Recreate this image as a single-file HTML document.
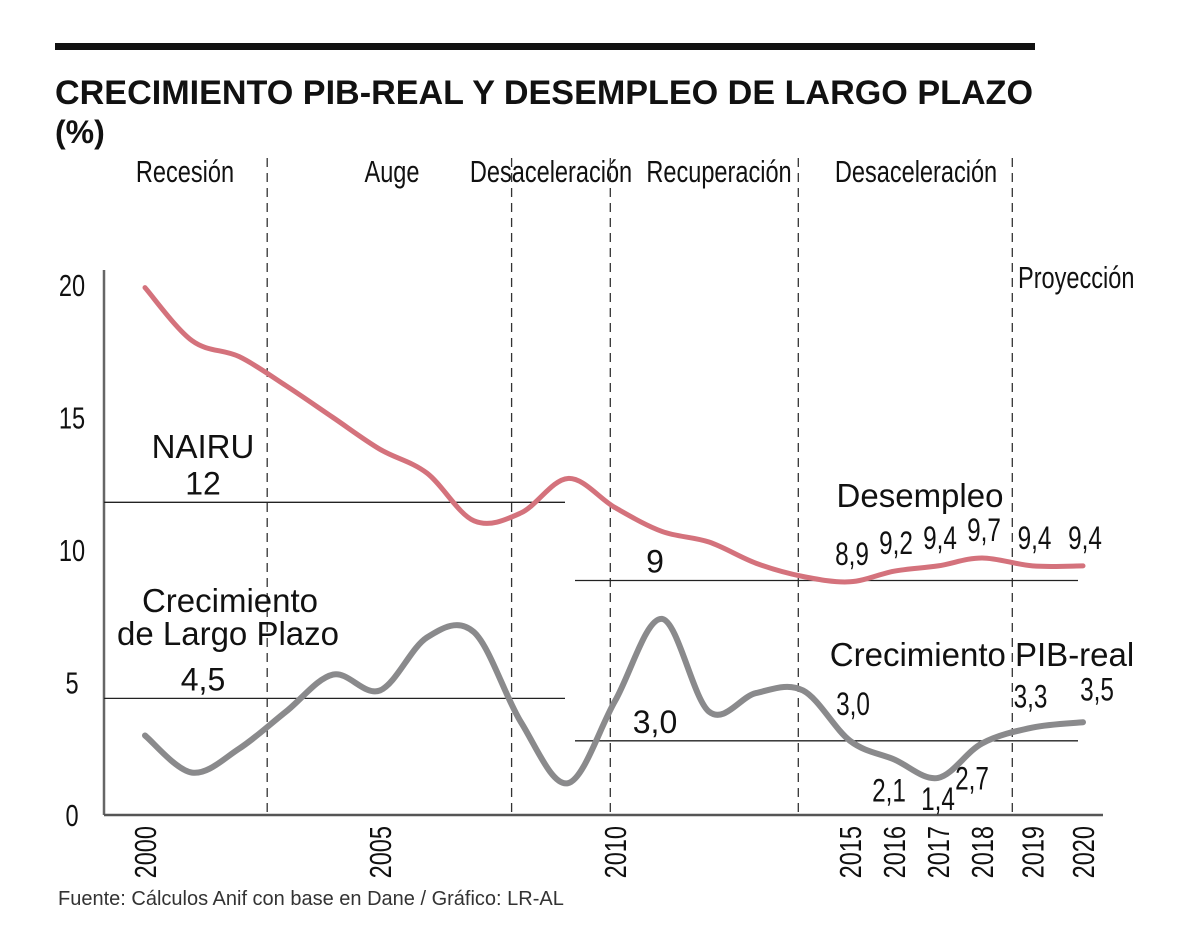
<!DOCTYPE html>
<html><head><meta charset="utf-8">
<style>
html,body{margin:0;padding:0;background:#fff;}
svg{display:block;font-family:"Liberation Sans",sans-serif;}
.t{font-family:"Liberation Sans",sans-serif;font-weight:bold;}
</style></head>
<body>
<svg id="chart" width="1200" height="950" viewBox="0 0 1200 950" xmlns="http://www.w3.org/2000/svg">
<rect x="55" y="43" width="980" height="7" fill="#111"/>
<text class="t" x="55" y="104" font-size="34" fill="#111" textLength="978" lengthAdjust="spacingAndGlyphs">CRECIMIENTO PIB-REAL Y DESEMPLEO DE LARGO PLAZO</text>
<text class="t" x="55" y="143" font-size="32" fill="#111">(%)</text>
<g id="plot"></g>
<text x="58" y="905" font-size="20" fill="#333">Fuente: Cálculos Anif con base en Dane / Gráfico: LR-AL</text>
</svg>
<script>
const years = [2000,2001,2002,2003,2004,2005,2006,2007,2008,2009,2010,2011,2012,2013,2014,2015,2016,2017,2018,2019,2020];
const unemployment = [19.9,17.9,17.3,16.2,15.0,13.8,12.9,11.1,11.4,12.7,11.6,10.7,10.3,9.5,9.0,8.8,9.2,9.4,9.7,9.4,9.4];
const gdpGrowth = [3.0,1.6,2.5,3.9,5.3,4.7,6.7,6.9,3.5,1.2,4.3,7.4,3.9,4.6,4.7,2.8,2.1,1.4,2.7,3.3,3.5];
const yTicks = [0,5,10,15,20];
const xTicks = [2000,2005,2010,2015,2016,2017,2018,2019,2020];
const unempLabels = [[2015,"8,9"],[2016,"9,2"],[2017,"9,4"],[2018,"9,7"],[2019,"9,4"],[2020,"9,4"]];
const gdpLabels = [[2015,"3,0"],[2016,"2,1"],[2017,"1,4"],[2018,"2,7"],[2019,"3,3"],[2020,"3,5"]];
const phaseBreaks = [2002.6,2007.8,2009.9,2013.9,2018.6];
const refLines = [[2000,2009,11.8,"12"],[2009,2020,8.85,"9"],[2000,2009,4.4,"4,5"],[2009,2020,2.8,"3,0"]];

const NS="http://www.w3.org/2000/svg";
const g=document.getElementById('plot');
function x(yr){
  if(yr<=2015) return 145+(yr-2000)*47;
  if(yr<=2018) return 850+(yr-2015)*44;
  return 982+(yr-2018)*50.5;
}
function y(v){return 815-v*26.5;}
function mk(tag,attrs,txt){const e=document.createElementNS(NS,tag);for(const k in attrs)e.setAttribute(k,attrs[k]);if(txt!==undefined)e.textContent=txt;g.appendChild(e);return e;}
function ctext(px,py,size,anchor,txt,rot){
  const tr='translate('+px+','+py+')'+(rot?' rotate(-90)':'')+' scale(0.76,1)';
  return mk('text',{x:0,y:0,'font-size':size,'text-anchor':anchor,fill:'#111',transform:tr},txt);
}
function smooth(pts){
  let d="M"+pts[0][0]+","+pts[0][1];
  for(let i=0;i<pts.length-1;i++){
    const p0=pts[Math.max(0,i-1)],p1=pts[i],p2=pts[i+1],p3=pts[Math.min(pts.length-1,i+2)];
    const c1=[p1[0]+(p2[0]-p0[0])/6,p1[1]+(p2[1]-p0[1])/6];
    const c2=[p2[0]-(p3[0]-p1[0])/6,p2[1]-(p3[1]-p1[1])/6];
    d+=" C"+c1+" "+c2+" "+p2;
  }
  return d;
}
let e;
[["Recesión",185,182,'middle','phase-recesion'],["Auge",392,182,'middle','phase-auge'],["Desaceleración",551,182,'middle','phase-desaceleracion-1'],["Recuperación",719,182,'middle','phase-recuperacion'],["Desaceleración",916,182,'middle','phase-desaceleracion-2'],["Proyección",1018,288,'start','phase-proyeccion']].forEach(a=>{
  e=ctext(a[1],a[2],31,a[3],a[0]);
  
  
});
e=mk('line',{x1:104,y1:270,x2:104,y2:815,stroke:'#666','stroke-width':2.5});


e=mk('line',{x1:104,y1:815,x2:1103,y2:815,stroke:'#555','stroke-width':2.5});


yTicks.forEach(v=>{
  const t=ctext(72,y(v)+11,31,'middle',String(v));
  
  
});
xTicks.forEach(yr=>{
  const t=ctext(x(yr)+11,826,31,'end',String(yr),true);
  
  
});
phaseBreaks.forEach((b,i)=>{
  const l=mk('line',{x1:x(b),y1:158,x2:x(b),y2:815,stroke:'#333','stroke-width':1.3,'stroke-dasharray':'9,6'});
  
  
});
refLines.forEach((r,i)=>{
  const x1=r[0]===2000?104:x(r[0])+7, x2=r[1]===2020?1078:x(r[1])-3;
  const l=mk('line',{x1:x1,y1:y(r[2]),x2:x2,y2:y(r[2]),stroke:'#222','stroke-width':1.3});
  
  
  const t=mk('text',{x:(r[0]===2000?203:655),y:y(r[2])-8,'font-size':32,'text-anchor':'middle',fill:'#111'},r[3]);
  
  
});
e=mk('path',{d:smooth(years.map((yr,i)=>[x(yr),y(unemployment[i])])),fill:'none',stroke:'#d4727c','stroke-width':5,'stroke-linecap':'round'});


e=mk('path',{d:smooth(years.map((yr,i)=>[x(yr),y(gdpGrowth[i])])),fill:'none',stroke:'#8a8a8c','stroke-width':6,'stroke-linecap':'round'});


unempLabels.forEach(l=>{
  const i=years.indexOf(l[0]);
  const t=ctext(x(l[0])+2,y(unemployment[i])-17,32,'middle',l[1]);
  
  
});
const gdpDx={2015:3,2016:-5,2017:0,2018:-10,2019:-2,2020:14};
const gdpDy={2015:-26,2016:42,2017:32,2018:46,2019:-20,2020:-22};
gdpLabels.forEach(l=>{
  const i=years.indexOf(l[0]);
  const t=ctext(x(l[0])+gdpDx[l[0]],y(gdpGrowth[i])+gdpDy[l[0]],32,'middle',l[1]);
  
  
});
[["NAIRU",203,458,'nairu-label'],["Desempleo",920,507,'unemployment-series-label'],["Crecimiento",230,612,'long-term-growth-label-1'],["de Largo Plazo",228,645,'long-term-growth-label-2'],["Crecimiento PIB-real",982,666,'gdp-series-label']].forEach(a=>{
  const t=mk('text',{x:a[1],y:a[2],'font-size':33,'text-anchor':'middle',fill:'#111'},a[0]);
  
  
});
</script>
</body></html>
